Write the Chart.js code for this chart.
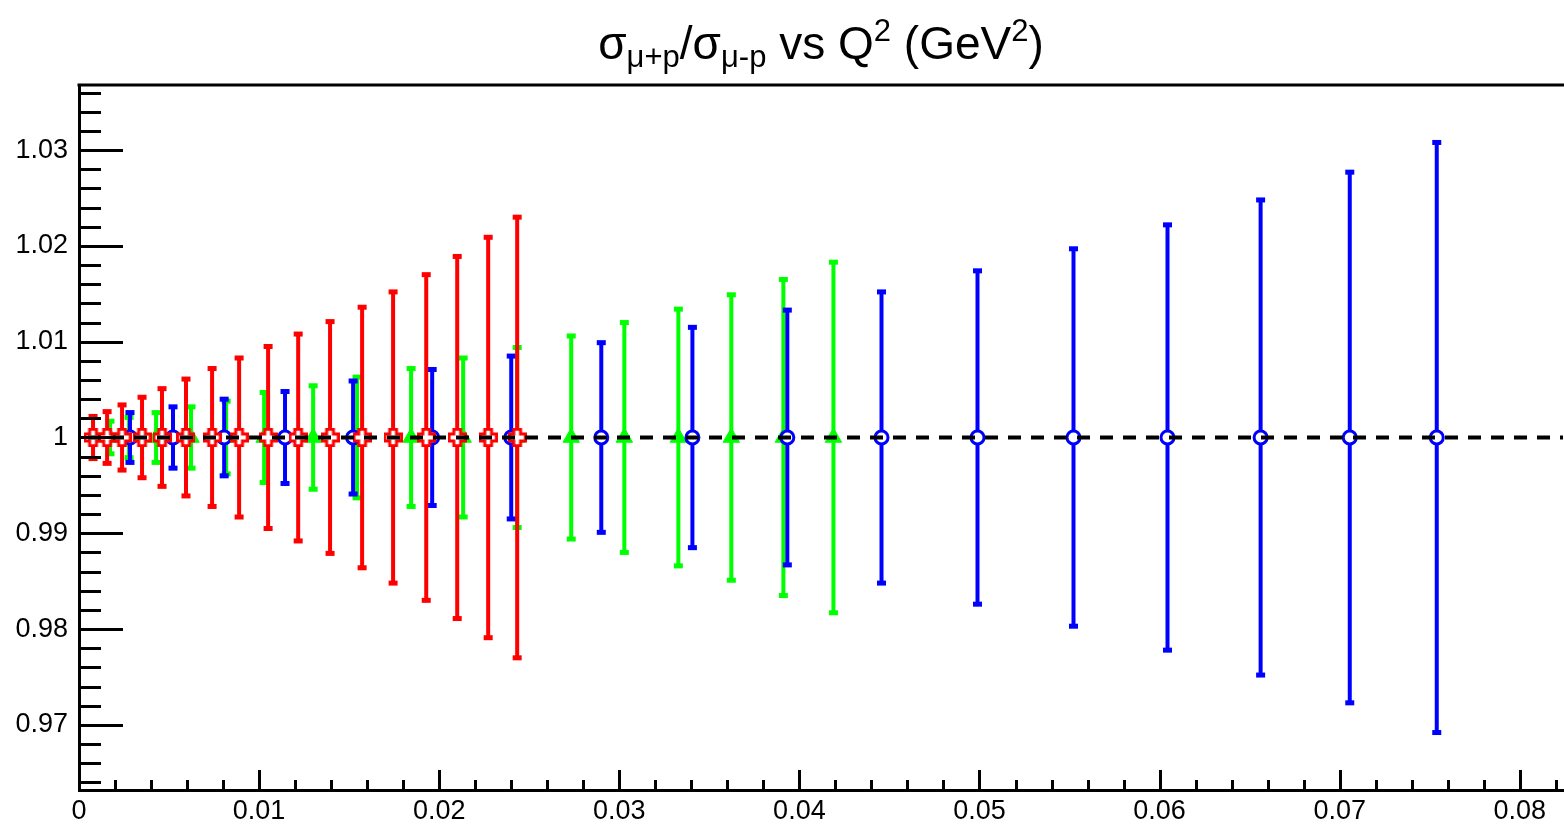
<!DOCTYPE html>
<html><head><meta charset="utf-8">
<script src="https://cdn.jsdelivr.net/npm/chart.js@4.4.1/dist/chart.umd.min.js"></script>
<style>
html,body{margin:0;padding:0;background:#fff;}
#wrap{position:relative;width:1564px;height:825px;}
#title{position:absolute;left:79px;width:1484px;top:20px;text-align:center;font-family:"Liberation Sans",Arial,sans-serif;font-size:46px;line-height:1;color:#000;white-space:nowrap;}
#title sub,#title sup{font-size:31px;vertical-align:baseline;position:relative;}
#title sub{top:8px;}
#title sup{top:-18px;}
canvas{position:absolute;left:0;top:0;}
</style>
</head><body>
<div id="wrap">
<canvas id="c" width="1564" height="825"></canvas>
<div id="title">σ<sub>μ+p</sub>/σ<sub>μ-p</sub> vs Q<sup>2</sup> (GeV<sup>2</sup>)</div>
</div>
<script>
// ---- data ----
const redQ2   = [0.00078,0.00156,0.00239,0.0035,0.00461,0.00594,0.00739,0.00889,0.0105,0.01217,0.01394,0.01572,0.01744,0.01928,0.021,0.02272,0.02433];
const redRatio= [1,1,1,1,1,1,1,1,1,1,1,1,1,1,1,1,1];
const redErr  = [0.0022,0.0027,0.0034,0.0042,0.0051,0.0061,0.0072,0.0083,0.0095,0.0108,0.0121,0.0136,0.0152,0.0170,0.0189,0.0209,0.0230];

const greenQ2   = [0.00172,0.00278,0.00428,0.00622,0.00817,0.01028,0.013,0.01544,0.01844,0.02133,0.02433,0.02733,0.03028,0.03328,0.03622,0.03911,0.04189];
const greenRatio= [1,1,1,1,1,1,1,1,1,1,1,1,1,1,1,1,1];
const greenErr  = [0.0017,0.0021,0.0026,0.0032,0.0038,0.0047,0.0054,0.0063,0.0072,0.0083,0.0094,0.0106,0.0120,0.0134,0.0149,0.0165,0.0183];

const blueQ2   = [0.00283,0.00522,0.00806,0.01144,0.01522,0.01961,0.024,0.029,0.03406,0.03933,0.04456,0.04989,0.05522,0.06044,0.06561,0.07056,0.07539];
const blueRatio= [1,1,1,1,1,1,1,1,1,1,1,1,1,1,1,1,1];
const blueErr  = [0.0026,0.0032,0.0040,0.0048,0.0059,0.0071,0.0085,0.0099,0.0115,0.0133,0.0152,0.0174,0.0197,0.0222,0.0248,0.0277,0.0308];

const refLineQ2    = [0.0005, 0.0824];
const refLineRatio = [1, 1];

const xTickValues = [0,0.01,0.02,0.03,0.04,0.05,0.06,0.07,0.08];
const xTickLabels = ["0","0.01","0.02","0.03","0.04","0.05","0.06","0.07","0.08"];
const yTickValues = [0.97,0.98,0.99,1.0,1.01,1.02,1.03];
const yTickLabels = ["0.97","0.98","0.99","1","1.01","1.02","1.03"];
const xMinorStep = 0.002, yMinorStep = 0.002;
const xRange = [0, 0.0824], yRange = [0.9632, 1.0368];

// ---- helpers ----
const pts = (xs, ys) => xs.map((x,i)=>({x:x, y:ys[i]}));

function openCross(color){
  const c = document.createElement('canvas');
  c.width = 19; c.height = 19;
  const g = c.getContext('2d');
  const m = 9.5, a = 3.4, L = 8.2;
  g.beginPath();
  g.moveTo(m-a, m-L); g.lineTo(m+a, m-L); g.lineTo(m+a, m-a); g.lineTo(m+L, m-a);
  g.lineTo(m+L, m+a); g.lineTo(m+a, m+a); g.lineTo(m+a, m+L); g.lineTo(m-a, m+L);
  g.lineTo(m-a, m+a); g.lineTo(m-L, m+a); g.lineTo(m-L, m-a); g.lineTo(m-a, m-a);
  g.closePath();
  g.fillStyle = '#fff'; g.fill();
  g.lineWidth = 3; g.strokeStyle = color; g.stroke();
  return c;
}

const errPlugin = {
  id: 'errbars',
  beforeDatasetDraw(chart, args){
    const ds = chart.data.datasets[args.index];
    if (!ds.errors) return;
    const xs = chart.scales.x, ys = chart.scales.y, ctx = chart.ctx, ca = chart.chartArea;
    ctx.save();
    ctx.beginPath(); ctx.rect(ca.left, ca.top, ca.right-ca.left, ca.bottom-ca.top); ctx.clip();
    ctx.strokeStyle = ds.barColor; ctx.fillStyle = ds.barColor; ctx.lineWidth = 4; ctx.lineCap = 'butt';
    ds.data.forEach((p,i)=>{
      const px = xs.getPixelForValue(p.x);
      const t = ys.getPixelForValue(p.y + ds.errors[i]);
      const b = ys.getPixelForValue(p.y - ds.errors[i]);
      ctx.beginPath(); ctx.moveTo(px, t); ctx.lineTo(px, b); ctx.stroke();
      ctx.fillRect(px-4.5, t-2.5, 9, 5);
      ctx.fillRect(px-4.5, b-2.5, 9, 5);
    });
    ctx.restore();
  }
};

const framePlugin = {
  id: 'frame',
  afterDatasetsDraw(chart){
    const xs = chart.scales.x, ys = chart.scales.y, ctx = chart.ctx, ca = chart.chartArea;
    ctx.save();
    ctx.strokeStyle = '#000';
    ctx.lineWidth = 3;
    ctx.beginPath(); ctx.moveTo(ca.left-1.5, ca.top); ctx.lineTo(ca.right+2, ca.top); ctx.stroke();
    const ny = Math.round((yRange[1]-yRange[0])/yMinorStep)+2;
    for (let k=-2;k<=ny;k++){
      const v = Math.round((0.96 + k*yMinorStep)*1e6)/1e6;
      if (v < yRange[0] || v > yRange[1]) continue;
      const major = yTickValues.some(t=>Math.abs(t-v)<1e-7);
      const py = Math.round(ys.getPixelForValue(v))+0.5;
      ctx.beginPath(); ctx.moveTo(ca.left, py); ctx.lineTo(ca.left + (major?44:22), py); ctx.stroke();
    }
    const nx = Math.round((xRange[1]-xRange[0])/xMinorStep)+1;
    for (let k=1;k<=nx;k++){
      const v = Math.round((k*xMinorStep)*1e6)/1e6;
      if (v > xRange[1]) continue;
      const major = xTickValues.some(t=>Math.abs(t-v)<1e-7);
      const px = Math.round(xs.getPixelForValue(v))+0.5;
      ctx.beginPath(); ctx.moveTo(px, ca.bottom); ctx.lineTo(px, ca.bottom - (major?20:10)); ctx.stroke();
    }
    ctx.restore();
  }
};

const font = {family: '"Liberation Sans", Arial, sans-serif', size: 27};

new Chart(document.getElementById('c'), {
  type: 'scatter',
  data: {
    datasets: [
      { label:'ref', data: pts(refLineQ2, refLineRatio), showLine:true, borderColor:'#000', borderWidth:4,
        borderDash:[13,10], pointRadius:0, order:0 },
      { label:'red', data: pts(redQ2, redRatio), errors: redErr, barColor:'#ff0000',
        pointStyle: openCross('#ff0000'), pointRadius:9, order:1 },
      { label:'blue', data: pts(blueQ2, blueRatio), errors: blueErr, barColor:'#0000ff',
        pointStyle:'circle', pointRadius:6.5, borderWidth:3, borderColor:'#0000ff', backgroundColor:'#ffffff', order:2 },
      { label:'green', data: pts(greenQ2, greenRatio), errors: greenErr, barColor:'#00ff00',
        pointStyle:'triangle', pointRadius:9.5, borderWidth:1, borderColor:'#00ff00', backgroundColor:'#00ff00', order:3 }
    ]
  },
  options: {
    responsive:false, animation:false, devicePixelRatio:1,
    layout:{autoPadding:false, padding:{top:85,left:0,right:1,bottom:0}},
    plugins:{legend:{display:false}, tooltip:{enabled:false}, title:{display:false}},
    scales:{
      x:{ type:'linear', min:xRange[0], max:xRange[1],
          grid:{display:false, drawTicks:false},
          border:{display:true, color:'#000', width:3},
          afterFit(s){ s.height = 35; s.paddingLeft = 0; s.paddingRight = 0; },
          afterBuildTicks(s){ s.ticks = xTickValues.map(v=>({value:v})); },
          ticks:{ color:'#000', font:font, padding:5, maxRotation:0, autoSkip:false,
                  callback:(v,i)=>xTickLabels[i] } },
      y:{ type:'linear', min:yRange[0], max:yRange[1],
          grid:{display:false, drawTicks:false},
          border:{display:true, color:'#000', width:3},
          afterFit(s){ s.width = 79; s.paddingTop = 0; s.paddingBottom = 0; },
          afterBuildTicks(s){ s.ticks = yTickValues.map(v=>({value:v})); },
          ticks:{ color:'#000', font:font, padding:11, autoSkip:false,
                  callback:(v,i)=>yTickLabels[i] } }
    }
  },
  plugins:[errPlugin, framePlugin]
});
</script>
</body></html>
